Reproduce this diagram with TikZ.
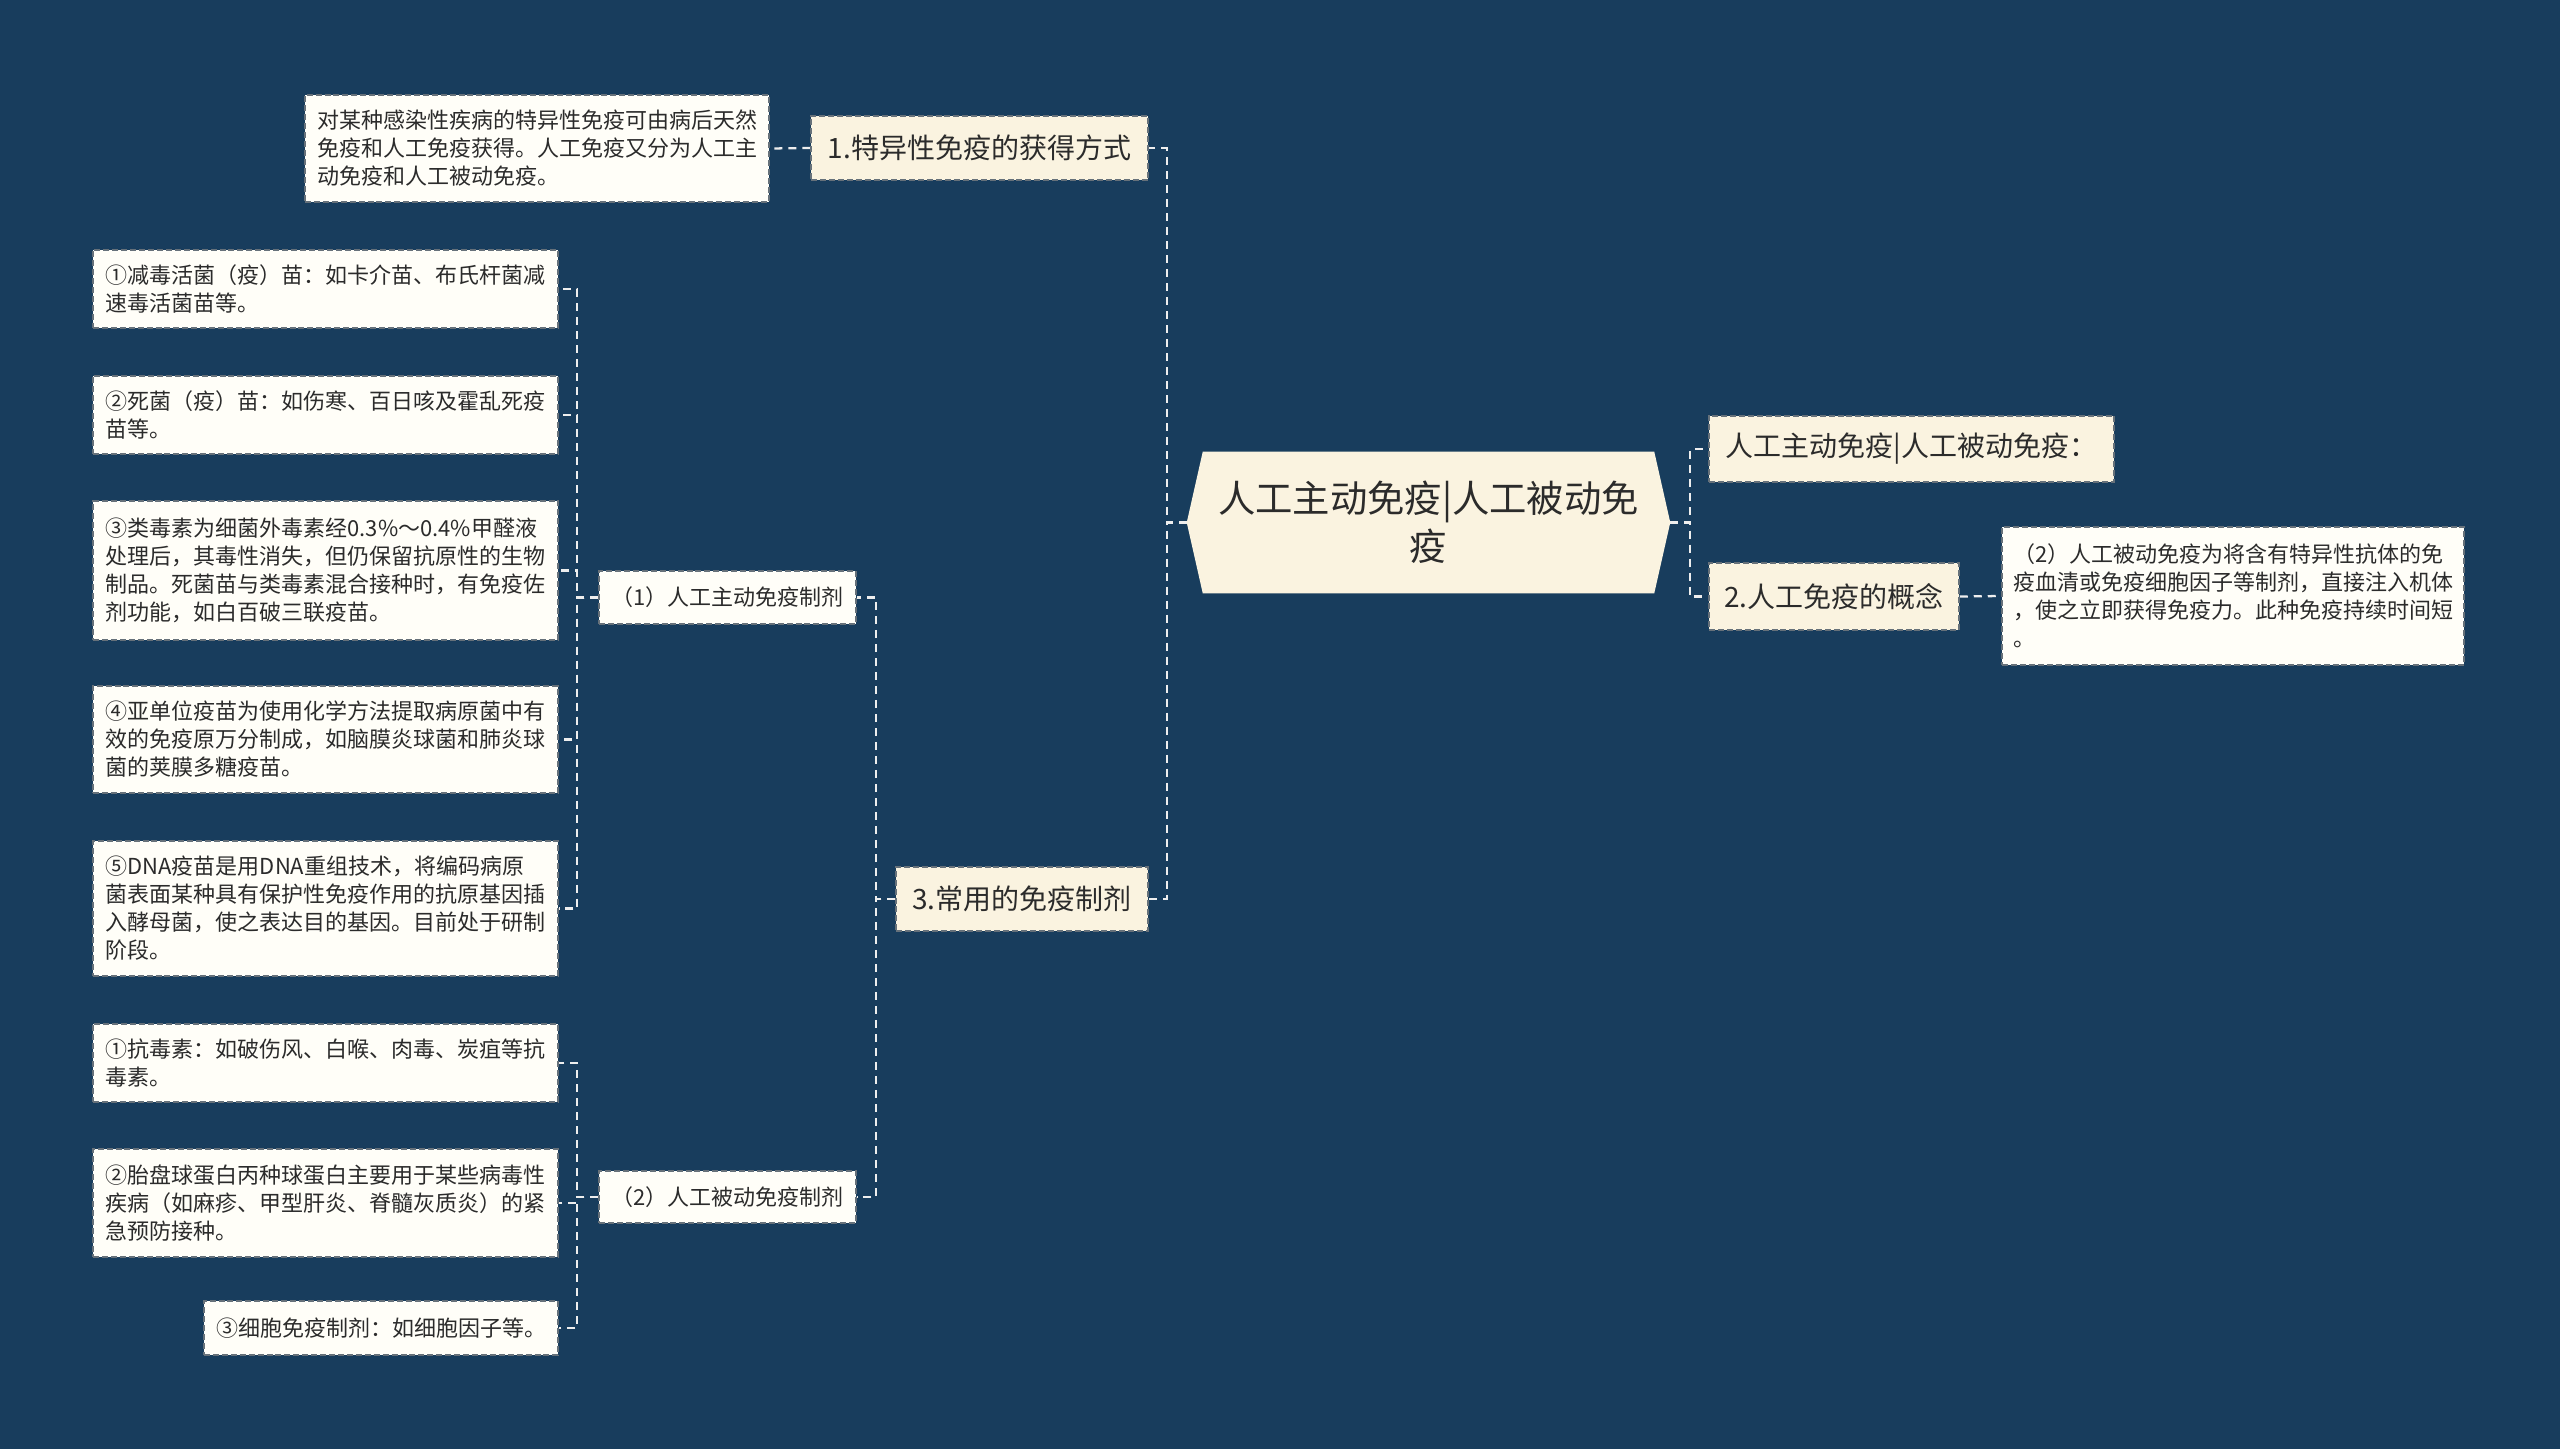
\documentclass[tikz,border=0pt]{standalone}
\usepackage{fontspec}
\setmainfont{Noto Sans CJK SC}
\usetikzlibrary{calc}
\pgfdeclarelayer{bg}
\pgfsetlayers{bg,main}
\definecolor{bgc}{HTML}{183D5D}
\definecolor{cream}{HTML}{FAF3E0}
\definecolor{leaf}{HTML}{FFFEF8}
\definecolor{bord}{HTML}{66717A}
\definecolor{txt}{HTML}{2B2B2B}
\definecolor{lnk}{HTML}{EEEEEE}
\tikzset{
  sz/.style 2 args={minimum width=#1*0.75pt, minimum height=#2*0.75pt},
  box/.style={draw=bord, line width=1.1pt, dash pattern=on 4.5pt off 2.2pt, inner sep=0pt, text=txt},
  leafbox/.style={box, fill=leaf, font=\fontsize{16.5pt}{21pt}\selectfont, align=left},
  midbox/.style={box, fill=leaf, font=\fontsize{16.5pt}{21pt}\selectfont, align=center},
  mainbox/.style={box, fill=cream, font=\fontsize{21pt}{26pt}\selectfont, align=center},
  rootbox/.style={inner sep=0pt, text=txt, font=\fontsize{28pt}{36pt}\selectfont, align=center},
  conn/.style={draw=lnk, line width=1.7pt, dash pattern=on 6pt off 4.5pt},
}
\begin{document}
\begin{tikzpicture}[x=0.75pt, y=-0.75pt]
\begin{pgfonlayer}{bg}
\fill[bgc] (0,0) rectangle (2560,1449);
\end{pgfonlayer}
\useasboundingbox (0,0) rectangle (2560,1449);

% root
\node[rootbox, sz={483}{141}] (root) at (1428.5,522.5) {人工主动免疫|人工被动免\\疫};

% right side
\node[mainbox, sz={405}{66}] (R1) at (1911.5,449) {人工主动免疫|人工被动免疫：};
\node[mainbox, sz={250}{67}] (R2) at (1834,596.5) {2.人工免疫的概念};
\node[leafbox, sz={462}{138}] (R2t) at (2233,596) {（2）人工被动免疫为将含有特异性抗体的免\\疫血清或免疫细胞因子等制剂，直接注入机体\\，使之立即获得免疫力。此种免疫持续时间短\\。};

% left side level 1
\node[mainbox, sz={337}{64}] (L1) at (979.5,148) {1.特异性免疫的获得方式};
\node[leafbox, sz={464}{107}] (L1t) at (537,148.5) {对某种感染性疾病的特异性免疫可由病后天然\\免疫和人工免疫获得。人工免疫又分为人工主\\动免疫和人工被动免疫。};
\node[mainbox, sz={252}{64}] (L3) at (1022,899) {3.常用的免疫制剂};

% level 2
\node[midbox, sz={257}{53}] (A) at (727.5,597.5) {（1）人工主动免疫制剂};
\node[midbox, sz={257}{52}] (B) at (727.5,1197) {（2）人工被动免疫制剂};

% leaves of A
\node[leafbox, sz={465}{78}] (a1) at (325.5,289) {①减毒活菌（疫）苗：如卡介苗、布氏杆菌减\\速毒活菌苗等。};
\node[leafbox, sz={465}{78}] (a2) at (325.5,415) {②死菌（疫）苗：如伤寒、百日咳及霍乱死疫\\苗等。};
\node[leafbox, sz={465}{139}] (a3) at (325.5,570.5) {③类毒素为细菌外毒素经0.3\%～0.4\%甲醛液\\处理后，其毒性消失，但仍保留抗原性的生物\\制品。死菌苗与类毒素混合接种时，有免疫佐\\剂功能，如白百破三联疫苗。};
\node[leafbox, sz={465}{107}] (a4) at (325.5,739.5) {④亚单位疫苗为使用化学方法提取病原菌中有\\效的免疫原万分制成，如脑膜炎球菌和肺炎球\\菌的荚膜多糖疫苗。};
\node[leafbox, sz={465}{135}] (a5) at (325.5,908.5) {⑤DNA疫苗是用DNA重组技术，将编码病原\\菌表面某种具有保护性免疫作用的抗原基因插\\入酵母菌，使之表达目的基因。目前处于研制\\阶段。};

% leaves of B
\node[leafbox, sz={465}{78}] (b1) at (325.5,1063) {①抗毒素：如破伤风、白喉、肉毒、炭疽等抗\\毒素。};
\node[leafbox, sz={465}{108}] (b2) at (325.5,1203) {②胎盘球蛋白丙种球蛋白主要用于某些病毒性\\疾病（如麻疹、甲型肝炎、脊髓灰质炎）的紧\\急预防接种。};
\node[leafbox, sz={354}{54}] (b3) at (381,1328) {③细胞免疫制剂：如细胞因子等。};

\begin{pgfonlayer}{bg}
% connectors
\foreach \c in {L1,L3} \draw[conn] (root.west) -- ++(-20,0) |- (\c.east);
\foreach \c in {R1,R2} \draw[conn] (root.east) -- ++(20,0) |- (\c.west);
\draw[conn] (L1.west) -- (L1t.east);
\draw[conn] (R2.east) -- (R2t.west);
\foreach \c in {A,B} \draw[conn] (L3.west) -- ++(-19,0) |- (\c.east);
\foreach \c in {a1,a2,a3,a4,a5} \draw[conn] (A.west) -- ++(-21,0) |- (\c.east);
\foreach \c in {b1,b2,b3} \draw[conn] (B.west) -- ++(-21,0) |- (\c.east);
% hexagon
\fill[cream] ($(root.north west)+(16,0)$) -- ($(root.north east)+(-16,0)$) -- (root.east)
  -- ($(root.south east)+(-16,0)$) -- ($(root.south west)+(16,0)$) -- (root.west) -- cycle;
\end{pgfonlayer}
\end{tikzpicture}
\end{document}
